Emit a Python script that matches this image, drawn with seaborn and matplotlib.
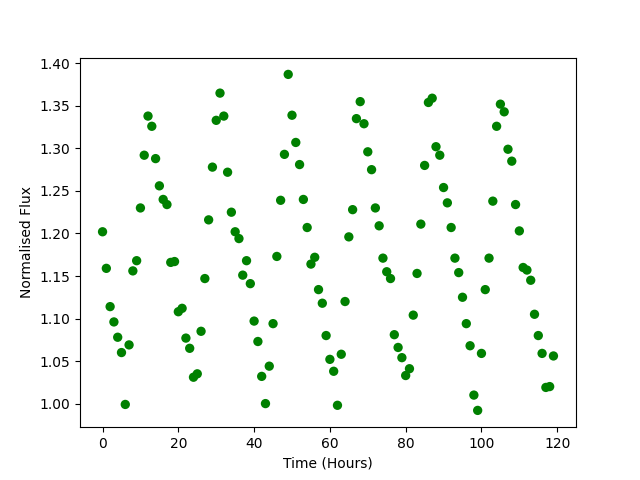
import numpy as np
import pandas as pd
import matplotlib
matplotlib.use('Agg')
import matplotlib.pyplot as plt
import seaborn as sns

# Hourly samples, flux
time_hours = np.arange(120)
flux = [
    1.202, 1.159, 1.114, 1.096, 1.078, 1.060, 0.999, 1.069, 1.156, 1.168,
    1.230, 1.292, 1.338, 1.326, 1.288, 1.256, 1.240, 1.234, 1.166, 1.167,
    1.108, 1.112, 1.077, 1.065, 1.031, 1.035, 1.085, 1.147, 1.216, 1.278,
    1.333, 1.365, 1.338, 1.272, 1.225, 1.202, 1.194, 1.151, 1.168, 1.141,
    1.097, 1.073, 1.032, 1.000, 1.044, 1.094, 1.173, 1.239, 1.293, 1.387,
    1.339, 1.307, 1.281, 1.240, 1.207, 1.164, 1.172, 1.134, 1.118, 1.080,
    1.052, 1.038, 0.998, 1.058, 1.120, 1.196, 1.228, 1.335, 1.355, 1.329,
    1.296, 1.275, 1.230, 1.209, 1.171, 1.155, 1.147, 1.081, 1.066, 1.054,
    1.033, 1.041, 1.104, 1.153, 1.211, 1.280, 1.354, 1.359, 1.302, 1.292,
    1.254, 1.236, 1.207, 1.171, 1.154, 1.125, 1.094, 1.068, 1.010, 0.992,
    1.059, 1.134, 1.171, 1.238, 1.326, 1.352, 1.343, 1.299, 1.285, 1.234,
    1.203, 1.160, 1.157, 1.145, 1.105, 1.080, 1.059, 1.019, 1.020, 1.056,
]

df = pd.DataFrame({'Time': time_hours, 'Flux': flux})

fig, ax = plt.subplots(figsize=(6.4, 4.8), dpi=100)
sns.scatterplot(data=df, x='Time', y='Flux', color='green', s=45,
                edgecolor='none', ax=ax)
ax.set_xlabel('Time (Hours)')
ax.set_ylabel('Normalised Flux')
ax.set_yticks(np.arange(1.00, 1.401, 0.05))
fig.savefig('out.png', dpi=100)
